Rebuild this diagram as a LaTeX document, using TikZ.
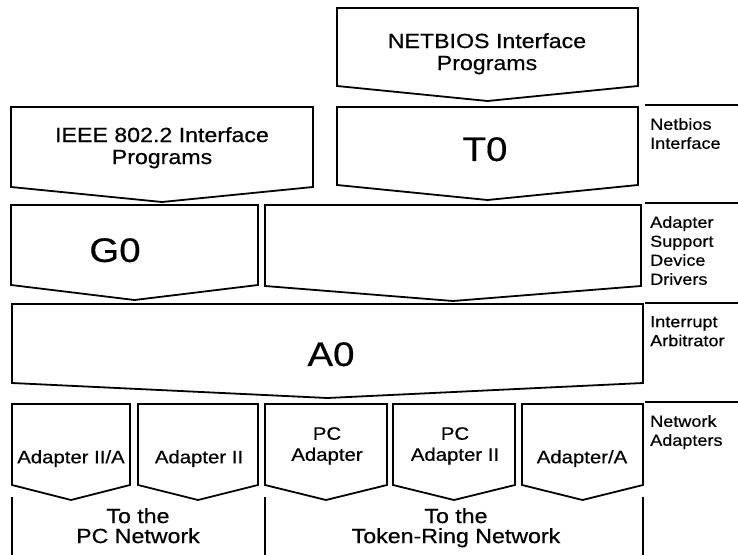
\documentclass[tikz,border=0pt]{standalone}
\usepackage{fontspec}
\setmainfont{Liberation Sans}[FakeStretch=1.13, FakeBold=0.5]
\usetikzlibrary{fit}
\tikzset{
  frame/.style={inner sep=0pt, outer sep=0pt},
  edge/.style={line width=1.8bp, line join=miter, black},
  rule/.style={line width=1.5bp, black},
  txt/.style={inner sep=0pt, align=center, anchor=north},
  sidetxt/.style={inner sep=0pt, align=left, anchor=north west, font=\fontsize{16bp}{19bp}\selectfont},
  mainf/.style={font=\fontsize{20.5bp}{22bp}\selectfont},
  bigf/.style={font=\fontsize{34bp}{36bp}\selectfont},
  adf/.style={font=\fontsize{18bp}{21bp}\selectfont},
  botf/.style={font=\fontsize{20.5bp}{20bp}\selectfont},
}
\newcommand\pentagonbox[1]{\draw[edge] (#1.north west) -- (#1.north east) -- (#1.south east) -- ([yshift=-15bp]#1.south) -- (#1.south west) -- cycle;}
\newcommand\mkbox[5]{\node[frame, fit={(#2,#3) (#4,#5)}] (#1) {};\pentagonbox{#1}}
\begin{document}
\begin{tikzpicture}[x=1bp, y=-1bp]
\fill[white] (0,0) rectangle (738,555);
\useasboundingbox (0,0) rectangle (738,555);
% boxes
\mkbox{netbios}{337}{8}{638}{86}
\mkbox{t0}{337}{107}{638}{185}
\mkbox{ieee}{11}{107}{313}{187}
\mkbox{g0}{11}{205}{258}{285}
\mkbox{asdd}{265}{205}{641}{286}
\mkbox{a0}{12}{304}{643}{383}
\mkbox{ad1}{12}{404}{130}{485}
\mkbox{ad2}{138}{404}{258}{485}
\mkbox{ad3}{265}{404}{387}{485}
\mkbox{ad4}{393}{404}{515}{485}
\mkbox{ad5}{522}{404}{643}{485}
% box texts
\node[txt, mainf] (netbiosT) at (487,33) {NETBIOS Interface\\Programs};
\node[txt, mainf] (ieeeT) at (162,127) {IEEE 802.2 Interface\\Programs};
\node[txt, bigf] (t0T) at (485,137) {T0};
\node[txt, bigf] (g0T) at (115,238) {G0};
\node[txt, bigf] (a0T) at (331,342) {A0};
\node[txt, adf] (ad1T) at (71,450) {Adapter II/A};
\node[txt, adf] (ad2T) at (199,450) {Adapter II};
\node[txt, adf] (ad3T) at (327,427) {PC\\Adapter};
\node[txt, adf] (ad4T) at (455,427) {PC\\Adapter II};
\node[txt, adf] (ad5T) at (582,450) {Adapter/A};
% bottom separators
\coordinate (v1t) at (12,497); \coordinate (v1b) at (12,555);
\coordinate (v2t) at (265,497); \coordinate (v2b) at (265,555);
\coordinate (v3t) at (643,497); \coordinate (v3b) at (643,555);
\draw[rule] (v1t) -- (v1b);
\draw[rule] (v2t) -- (v2b);
\draw[rule] (v3t) -- (v3b);
\node[txt, botf] (pcnet) at (138,508) {To the\\PC Network};
\node[txt, botf] (trnet) at (456,508) {To the\\Token-Ring Network};
% side labels
\coordinate (r1a) at (645,105); \coordinate (r1b) at (738,105);
\coordinate (r2a) at (645,203); \coordinate (r2b) at (738,203);
\coordinate (r3a) at (645,303); \coordinate (r3b) at (738,303);
\coordinate (r4a) at (645,402); \coordinate (r4b) at (738,402);
\draw[rule] (r1a) -- (r1b);
\draw[rule] (r2a) -- (r2b);
\draw[rule] (r3a) -- (r3b);
\draw[rule] (r4a) -- (r4b);
\node[sidetxt] (s1) at (650,118) {Netbios\\Interface};
\node[sidetxt] (s2) at (650,216) {Adapter\\Support\\Device\\Drivers};
\node[sidetxt] (s3) at (650,316) {Interrupt\\Arbitrator};
\node[sidetxt] (s4) at (650,415) {Network\\Adapters};
\end{tikzpicture}
\end{document}
